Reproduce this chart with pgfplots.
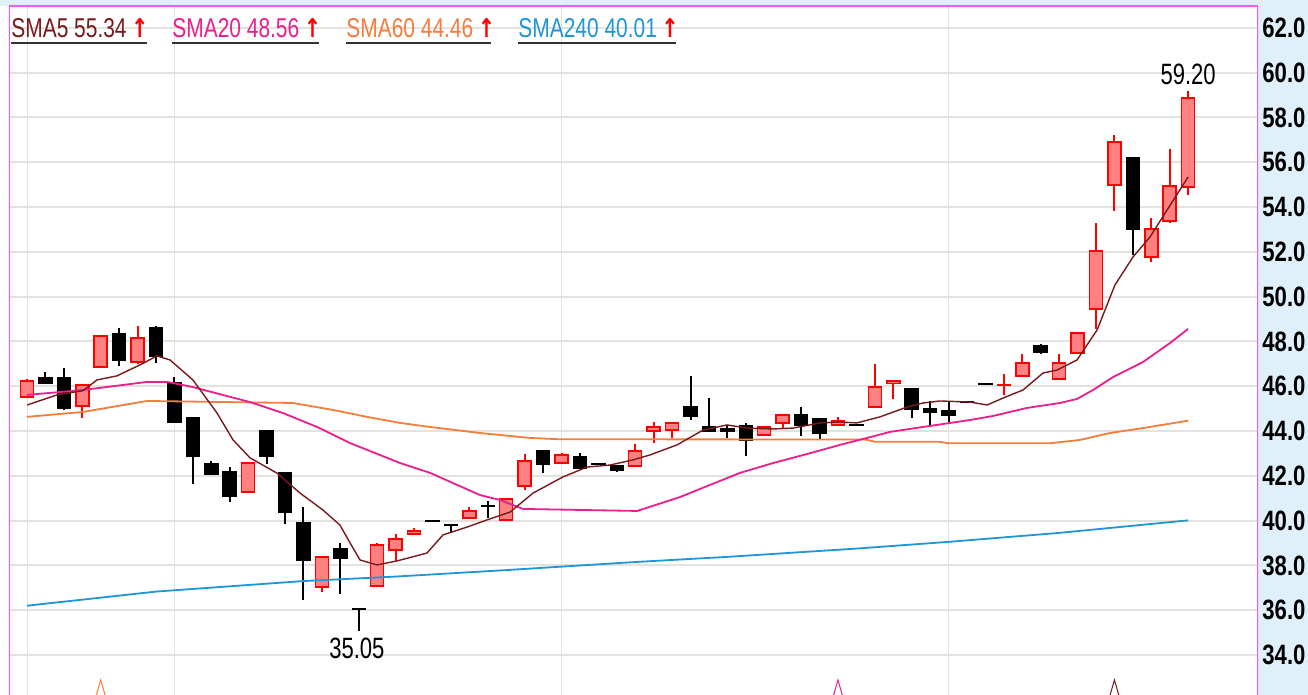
\documentclass[border=0pt]{standalone}
\usepackage{pgfplots}
\pgfplotsset{compat=1.18}
\usepackage{pgfplotstable}
\usepackage{fontspec}
\setmainfont{Liberation Sans}
\newfontfamily\condfont[FakeStretch=0.75]{Liberation Sans}
\newfontfamily\legfont[FakeStretch=0.77]{Liberation Sans}
\newfontfamily\tickfont[FakeStretch=0.79]{Liberation Sans}
\newfontfamily\arrowfont[FakeStretch=0.8]{DejaVu Sans}

\definecolor{bgblue}{RGB}{224,240,251}
\definecolor{framec}{RGB}{240,90,240}
\definecolor{maC}{RGB}{120,25,30}
\definecolor{mbC}{RGB}{236,30,140}
\definecolor{mcC}{RGB}{245,125,60}
\definecolor{mdC}{RGB}{30,150,215}
\definecolor{upR}{RGB}{255,0,0}
\definecolor{upF}{RGB}{255,128,128}
\definecolor{gridc}{RGB}{226,226,222}
\definecolor{ulc}{RGB}{50,50,50}

\pgfplotstableread{
i o h l c
0 45.52 46.32 45.52 46.23
3 45.12 46.10 44.58 46.05
4 46.86 48.24 46.86 48.24
6 47.08 48.69 46.99 48.15
12 41.28 42.62 41.28 42.57
16 37.04 38.42 36.81 38.38
19 37.08 39.00 37.08 38.91
20 38.69 39.40 38.20 39.18
21 39.40 39.67 39.40 39.54
24 40.12 40.60 40.12 40.43
26 40.03 40.96 40.03 40.96
27 41.54 42.97 41.37 42.66
29 42.57 43.00 42.57 42.93
33 42.44 43.42 42.44 43.10
34 44.00 44.40 43.46 44.18
35 44.04 44.36 43.69 44.36
40 43.82 44.18 43.82 44.18
41 44.36 44.71 44.09 44.71
44 44.27 44.63 44.27 44.45
46 45.07 46.99 45.07 45.96
47 46.14 46.23 45.43 46.23
53 46.03 46.54 45.61 46.07
54 46.46 47.44 46.46 47.04
56 46.32 47.44 46.32 47.04
57 47.48 48.38 47.48 48.38
58 49.45 53.29 48.55 52.04
59 54.98 57.21 53.82 56.90
61 51.77 53.51 51.54 53.02
62 53.38 56.59 53.29 54.94
63 54.89 59.20 54.54 58.87
}\redc

\pgfplotstableread{
i o h l c
1 46.37 46.63 46.14 46.14
2 46.37 46.81 44.94 45.03
5 48.33 48.60 46.90 47.17
7 48.60 48.69 47.04 47.35
8 46.14 46.41 44.40 44.40
9 44.58 44.58 41.63 42.88
10 42.53 42.66 42.08 42.08
11 42.17 42.39 40.83 41.10
13 44.00 44.00 42.53 42.88
14 42.12 42.12 39.85 40.38
15 39.89 40.60 36.46 38.24
17 38.73 39.00 36.72 38.33
18 36.05 36.05 35.05 36.05
22 39.98 39.98 39.98 39.98
23 39.80 39.80 39.45 39.80
25 40.67 40.88 40.12 40.63
28 43.10 43.10 42.12 42.53
30 42.84 43.00 42.35 42.35
31 42.53 42.53 42.53 42.53
32 42.44 42.44 42.17 42.26
36 45.07 46.46 44.49 44.67
37 44.18 45.47 44.00 44.00
38 44.09 44.27 43.69 44.00
39 44.22 44.36 42.88 43.60
42 44.71 45.07 43.78 44.27
43 44.54 44.58 43.60 43.91
45 44.27 44.27 44.27 44.27
48 45.88 45.88 44.58 44.98
49 44.98 45.34 44.18 44.85
50 44.89 45.29 44.40 44.71
51 45.29 45.29 45.29 45.29
52 46.10 46.10 46.10 46.10
55 47.79 47.88 47.44 47.53
60 56.19 56.19 51.86 53.02
}\blackc

\begin{document}
\begin{tikzpicture}[x=1pt,y=1pt]
\path[use as bounding box] (0,0) rectangle (654,347.5);
\fill[bgblue] (0,0) rectangle (654,347.5);
\fill[white] (0,0) rectangle (4.5,344.5);
\begin{axis}[
  at={(4.5pt,0pt)}, anchor=south west, scale only axis,
  width=624.5pt, height=344.5pt,
  xmin=-0.977, xmax=66.79, ymin=32.214, ymax=62.973,
  axis background/.style={fill=white},
  axis line style={draw=none},
  xtick={0,8,29,50}, xticklabels={},
  ytick={34,36,...,62},
  yticklabel pos=right,
  scaled y ticks=false,
  major tick length=0pt,
  xmajorgrids, ymajorgrids,
  x grid style={gridc, line width=0.5pt},
  y grid style={gridc, line width=1pt},
  yticklabel style={font=\tickfont\bfseries\fontsize{14}{14}\selectfont, anchor=west, inner sep=0pt, xshift=2pt, text=black,
    /pgf/number format/fixed, /pgf/number format/fixed zerofill, /pgf/number format/precision=1, /pgf/number format/assume math mode=true},
  clip=true,
]
% red candles: wicks, outline, fill
\addplot[draw=none, mark=none, forget plot, error bars/.cd, y dir=minus, y explicit, error mark=none,
  error bar style={line width=1pt, draw=upR, solid}]
  table[x=i, y=h, y error minus expr=\thisrow{h}-\thisrow{l}] {\redc};
\addplot[draw=none, mark=none, forget plot, error bars/.cd, y dir=both, y explicit, error mark=none,
  error bar style={line width=7.25pt, draw=upR, solid}]
  table[x=i, y expr=(\thisrow{o}+\thisrow{c})/2, y error expr={abs(\thisrow{c}-\thisrow{o})/2+0.03}] {\redc};
\addplot[draw=none, mark=none, forget plot, error bars/.cd, y dir=both, y explicit, error mark=none,
  error bar style={line width=5.75pt, draw=upF, solid}]
  table[x=i, y expr=(\thisrow{o}+\thisrow{c})/2, y error expr={max(abs(\thisrow{c}-\thisrow{o})/2-0.035,0)}] {\redc};
% black candles
\addplot[draw=none, mark=none, forget plot, error bars/.cd, y dir=minus, y explicit, error mark=none,
  error bar style={line width=1pt, draw=black, solid}]
  table[x=i, y=h, y error minus expr=\thisrow{h}-\thisrow{l}] {\blackc};
\addplot[draw=none, mark=none, forget plot, error bars/.cd, y dir=both, y explicit, error mark=none,
  error bar style={line width=7.25pt, draw=black, solid}]
  table[x=i, y expr=(\thisrow{o}+\thisrow{c})/2, y error expr={abs(\thisrow{c}-\thisrow{o})/2+0.035}] {\blackc};
% moving averages
\addplot[mdC, line width=0.9pt, mark=none] coordinates {
(0,36.20)(7,36.83)(15,37.30)(20,37.50)(26,37.79)(33,38.15)(38,38.38)(45,38.75)(50,39.05)(56,39.45)(63,40.01)};
\addplot[mcC, line width=0.9pt, mark=none] coordinates {
(0,44.63)(3.04,44.85)(6.51,45.34)(14.43,45.25)(16.6,44.94)(18.45,44.63)(20.24,44.36)(21.87,44.18)(24.58,43.91)(27.29,43.69)(28.9,43.63)(45.5,43.62)(46,43.52)(49.5,43.52)(50,43.45)(55.5,43.45)(57.13,43.60)(58.76,43.91)(60.55,44.13)(63,44.46)};
\addplot[mbC, line width=0.9pt, mark=none] coordinates {
(0,45.61)(3.04,45.83)(6.51,46.19)(7.6,46.19)(9.0,45.96)(12.1,45.29)(13.89,44.80)(15.74,44.18)(17.53,43.46)(20.24,42.57)(21.87,42.13)(24.58,41.14)(25.66,40.92)(26.91,40.52)(33.1,40.43)(35.43,41.05)(36.9,41.54)(38.69,42.13)(40.48,42.57)(42.32,42.97)(44.11,43.38)(45.58,43.69)(46.83,43.96)(48.62,44.18)(51.17,44.49)(52.41,44.67)(54.26,45.03)(56.05,45.25)(56.97,45.43)(57.84,45.83)(58.93,46.41)(60.55,47.08)(62.02,47.93)(63,48.56)};
\addplot[maC, line width=0.7pt, mark=none] coordinates {
(0,45.16)(1.63,45.61)(3.04,45.80)(3.8,46.28)(4.88,46.46)(6.13,46.95)(7.05,47.35)(7.76,47.17)(9.0,46.28)(10.31,44.80)(11.18,43.60)(12.1,42.80)(13.56,42.12)(14.81,41.23)(16.06,40.47)(16.98,39.80)(17.53,39.00)(18.07,38.24)(18.99,38.02)(20.08,38.20)(21.7,38.55)(22.57,39.36)(23.87,39.71)(24.96,40.03)(26.21,40.38)(27.46,41.23)(29.08,41.95)(30.39,42.39)(31.63,42.48)(32.88,42.71)(33.8,42.93)(35.27,43.38)(36.68,44.04)(37.98,44.27)(39.07,44.13)(40.48,44.09)(41.56,44.13)(43.03,44.36)(44.11,44.40)(45.03,44.36)(46.28,44.63)(47.75,45.07)(48.62,45.25)(49.54,45.34)(51.17,45.29)(52.09,45.16)(52.96,45.47)(54.04,45.83)(55.13,46.59)(55.89,46.72)(56.97,47.17)(58.06,48.51)(59.03,50.52)(60.01,51.77)(60.93,52.66)(61.86,53.87)(63,55.34)};
% signal triangles
\addplot[only marks, mark=triangle*, mark size=3pt, mark options={fill=white, draw=mcC, line width=0.5pt, yscale=2}] coordinates {(4,32.35)};
\addplot[only marks, mark=triangle*, mark size=3pt, mark options={fill=white, draw=mbC, line width=0.5pt, yscale=2}] coordinates {(44,32.35)};
\addplot[only marks, mark=triangle*, mark size=3pt, mark options={fill=white, draw=maC, line width=0.5pt, yscale=2}] coordinates {(59,32.35)};
% extreme labels
\node[font=\condfont\fontsize{14.7}{15}\selectfont, anchor=south, inner sep=0pt] at (axis cs:63,59.45) {59.20};
\node[font=\condfont\fontsize{14.7}{15}\selectfont, anchor=north, inner sep=0pt] at (axis cs:17.9,34.76) {35.05};
% frame
\draw[framec, line width=1pt] (rel axis cs:0,0) -- (rel axis cs:0,1) -- (rel axis cs:1,1) -- (rel axis cs:1,0);
\end{axis}
% legend
\node[anchor=base west, inner sep=0pt, font=\legfont\fontsize{13.6}{14}\selectfont] at (5.5,328.5) {\textcolor{maC}{SMA5 55.34}\,\textcolor{upR}{\arrowfont\bfseries\fontsize{13}{14}\selectfont ↑}};
\node[anchor=base west, inner sep=0pt, font=\legfont\fontsize{13.6}{14}\selectfont] at (86,328.5) {\textcolor{mbC}{SMA20 48.56}\,\textcolor{upR}{\arrowfont\bfseries\fontsize{13}{14}\selectfont ↑}};
\node[anchor=base west, inner sep=0pt, font=\legfont\fontsize{13.6}{14}\selectfont] at (173,328.5) {\textcolor{mcC}{SMA60 44.46}\,\textcolor{upR}{\arrowfont\bfseries\fontsize{13}{14}\selectfont ↑}};
\node[anchor=base west, inner sep=0pt, font=\legfont\fontsize{13.6}{14}\selectfont] at (259,328.5) {\textcolor{mdC}{SMA240 40.01}\,\textcolor{upR}{\arrowfont\bfseries\fontsize{13}{14}\selectfont ↑}};
\draw[ulc, line width=1pt] (5.5,326) -- (73.5,326);
\draw[ulc, line width=1pt] (86,326) -- (159.5,326);
\draw[ulc, line width=1pt] (173,326) -- (245.5,326);
\draw[ulc, line width=1pt] (259,326) -- (338,326);
\end{tikzpicture}
\end{document}
